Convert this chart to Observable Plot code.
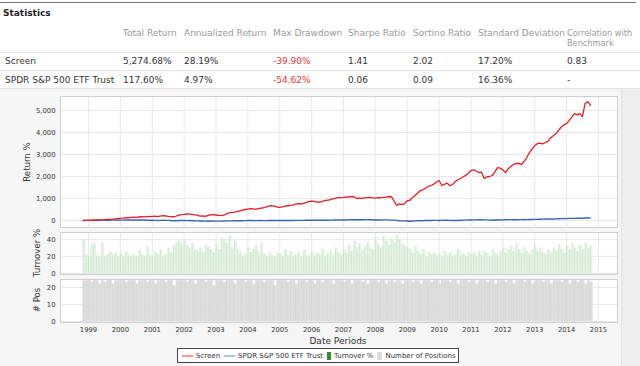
<!DOCTYPE html>
<html><head><meta charset="utf-8">
<script src="https://cdn.jsdelivr.net/npm/d3@7"></script>
<script src="https://cdn.jsdelivr.net/npm/@observablehq/plot@0.6"></script>
<style>
body{margin:0;width:640px;height:366px;position:relative;overflow:hidden;background:#fff;font-family:"DejaVu Sans",sans-serif;color:#333;}
.a{position:absolute;white-space:nowrap;line-height:1;}
.hd{color:#999;font-size:9px;}
.cell{font-size:9px;color:#333;}
.neg{color:#e8343c;}
.sep{position:absolute;left:0;width:640px;height:1px;background:#e2e2e2;}
.ylab{position:absolute;font-size:8.6px;color:#333;transform:translate(-50%,-50%) rotate(-90deg);white-space:nowrap;}
.panel{position:absolute;left:0;}
#legend{position:absolute;left:177px;top:348px;width:282px;height:15px;border:1px solid #444;background:#fff;font-size:7px;color:#333;display:flex;align-items:center;box-sizing:border-box;padding-left:4px;white-space:nowrap;}
.li{display:flex;align-items:center;margin-right:4px;white-space:nowrap;}
.li svg{margin-right:3px;display:block;}
</style></head><body>
<div class="a" style="left:0;top:2px;width:636px;height:1px;background:#777"></div>
<div class="a" style="left:3px;top:9px;font-weight:bold;font-size:9px;color:#222">Statistics</div>
<div id="table"></div>
<div class="a" style="left:0;top:89px;width:640px;height:277px;background:#f6f6f6"></div>
<div class="a" style="left:621px;top:89px;width:19px;height:277px;background:#efefef;border-left:1px solid #e2e2e2"></div>
<div id="p1" class="panel" style="top:92px"></div>
<div id="p2" class="panel" style="top:228px"></div>
<div id="p3" class="panel" style="top:275px"></div>
<div class="ylab" style="left:27px;top:162px">Return %</div>
<div class="ylab" style="left:37px;top:253px">Turnover %</div>
<div class="ylab" style="left:37px;top:300px"># Pos</div>
<div class="a" style="left:338px;top:341px;transform:translate(-50%,-50%);font-size:9px;color:#333">Date Periods</div>
<div id="legend"></div>
<script>
// ---------- table data ----------
const statColumns = ["Total Return","Annualized Return","Max Drawdown","Sharpe Ratio","Sortino Ratio","Standard Deviation","Correlation with"];
const statColumnsLine2 = ["","","","","","","Benchmark"];
const statNames = ["Screen","SPDR S&P 500 ETF Trust"];
const statScreen = ["5,274.68%","28.19%","-39.90%","1.41","2.02","17.20%","0.83"];
const statSpy = ["117.60%","4.97%","-54.62%","0.06","0.09","16.36%","-"];

// ---------- chart data (monthly, Nov 1998 .. Oct 2014) ----------
const startMonth = "1998-11-01";
const screenReturn = [
  0, 5,
  10, 15, 12, 25, 30, 28, 40, 45, 50, 60, 75, 90,
  95, 110, 130, 120, 140, 150, 145, 160, 170, 165, 175, 180,
  190, 200, 180, 200, 220, 210, 190, 180, 170, 200, 240, 270,
  280, 300, 290, 280, 260, 240, 200, 210, 190, 230, 260, 270,
  250, 230, 220, 240, 300, 350, 370, 380, 400, 440, 470, 500,
  520, 540, 530, 510, 540, 560, 580, 620, 660, 680, 650, 610,
  600, 620, 650, 670, 690, 700, 740, 770, 750, 780, 820, 860,
  880, 870, 850, 830, 860, 900, 920, 950, 980, 1010, 1040, 1040,
  1050, 1070, 1060, 1090, 1080, 1000, 1020, 1010, 1030, 1040, 1050, 1030,
  1020, 1040, 1030, 1050, 1060, 1090, 1080, 900, 680, 760, 720, 770,
  900, 920, 1050, 1150, 1250, 1360, 1400, 1480, 1560, 1590, 1650, 1750,
  1820, 1590, 1640, 1700, 1590, 1620, 1750, 1850, 1910, 1980, 2050, 2150,
  2270, 2300, 2250, 2180, 2200, 1910, 1980, 2000, 2045, 2200, 2400, 2380,
  2300, 2180, 2350, 2450, 2550, 2590, 2600, 2540, 2700, 2850, 3090, 3250,
  3400, 3500, 3520, 3480, 3545, 3600, 3750, 3850, 3950, 4100, 4250, 4350,
  4400, 4550, 4700, 4860, 4800, 4860, 4720, 5320, 5400, 5230
];
const spyReturn = [
  0, 5,
  5, 8, 12, 15, 12, 18, 15, 14, 10, 16, 18, 25,
  18, 15, 25, 22, 20, 24, 22, 30, 22, 22, 12, 13,
  17, 6, 0, 8, 9, 5, 4, -3, -11, -9, -2, -1,
  -3, -5, -1, -8, -9, -16, -22, -22, -30, -24, -19, -24,
  -26, -28, -27, -22, -18, -17, -15, -13, -14, -10, -9, -4,
  -3, -1, -3, -4, -3, -1, -4, -4, -3, -1, 3, 5,
  2, 4, 2, 0, 3, 3, 7, 6, 7, 5, 9, 9,
  12, 12, 14, 15, 12, 12, 13, 15, 18, 22, 24, 26,
  28, 26, 27, 33, 38, 36, 32, 34, 39, 41, 34, 33,
  24, 22, 21, 27, 29, 18, 17, 19, 8, -10, -17, -16,
  -23, -31, -25, -18, -14, -13, -7, -3, 1, -1, 5, 7,
  3, 6, 12, 14, 6, 0, 7, 2, 11, 15, 15, 23,
  26, 30, 30, 34, 32, 30, 27, 19, 11, 23, 22, 24,
  30, 36, 40, 39, 31, 36, 38, 41, 44, 42, 43, 44,
  52, 54, 60, 63, 67, 65, 74, 69, 75, 83, 87, 93,
  86, 95, 96, 97, 101, 106, 104, 113, 111, 117.6
];
const turnover = [
  40, 22,
  20, 34, 35, 21, 20, 36, 20, 22, 25, 21, 24, 20,
  23, 20, 25, 21, 20, 22, 20, 27, 21, 20, 32, 21,
  20, 25, 22, 28, 21, 22, 30, 24, 33, 36, 38, 35,
  38, 33, 30, 35, 28, 26, 30, 24, 33, 31, 28, 24,
  34, 28, 42, 40, 35, 44, 30, 38, 28, 24, 20, 22,
  30, 25, 28, 33, 24, 36, 22, 20, 25, 21, 20, 24,
  22, 20, 28, 21, 26, 20, 22, 24, 20, 27, 21, 20,
  25, 21, 24, 22, 28, 20, 23, 26, 21, 30, 24, 22,
  28, 24, 33, 26, 38, 30, 35, 27, 32, 36, 30, 28,
  42, 34, 30, 44, 38, 33, 40, 36, 45, 40, 35, 32,
  30, 28, 24, 32, 26, 22, 28, 20, 25, 22, 24, 21,
  22, 20, 26, 21, 24, 20, 22, 28, 21, 23, 20, 25,
  22, 24, 20, 26, 21, 25, 23, 20, 28, 24, 22, 26,
  30, 24, 28, 32, 26, 35, 28, 24, 30, 26, 22, 28,
  32, 26, 30, 25, 22, 28, 24, 30, 26, 34, 28, 24,
  32, 28, 35, 30, 26, 33, 28, 36, 30, 32
];
const positions = [
  24, 24,
  24, 23, 24, 24, 22, 24, 23, 24, 24, 22, 24, 24,
  24, 24, 23, 24, 24, 24, 22, 24, 24, 24, 23, 24,
  24, 22, 24, 24, 24, 23, 24, 24, 21, 24, 24, 24,
  24, 23, 24, 24, 22, 24, 24, 24, 23, 24, 24, 21,
  24, 24, 24, 23, 24, 24, 24, 22, 24, 24, 24, 23,
  24, 24, 22, 24, 24, 24, 23, 24, 24, 24, 21, 24,
  24, 24, 24, 23, 24, 24, 22, 24, 24, 24, 23, 24,
  24, 22, 24, 24, 23, 24, 24, 24, 22, 24, 24, 24,
  23, 24, 24, 22, 24, 24, 24, 23, 24, 22, 24, 24,
  24, 23, 24, 24, 22, 24, 24, 23, 24, 24, 22, 24,
  24, 24, 23, 24, 24, 22, 24, 24, 24, 23, 24, 24,
  22, 24, 24, 24, 23, 24, 24, 22, 24, 24, 24, 23,
  24, 24, 22, 24, 24, 24, 23, 24, 24, 22, 24, 24,
  24, 23, 24, 24, 22, 24, 24, 24, 23, 24, 24, 22,
  24, 24, 24, 23, 24, 24, 22, 24, 24, 24, 23, 24,
  24, 22, 24, 24, 23, 24, 24, 22, 24, 23
];
const yearTicks = ["1999","2000","2001","2002","2003","2004","2005","2006","2007","2008","2009","2010","2011","2012","2013","2014","2015"];
const returnTicks = [0, 1000, 2000, 3000, 4000, 5000];
const turnoverTicks = [0, 20, 40];
const positionTicks = [0, 10, 20];
const legendItems = ["Screen", "SPDR S&P 500 ETF Trust", "Turnover %", "Number of Positions"];

// ---------- table ----------
const colX = [123,184,273,348,413,478,567];
const tbl = document.getElementById("table");
function put(txt, x, y, cls, fs){ const d=document.createElement("div"); d.className="a "+cls; d.style.left=x+"px"; d.style.top=y+"px"; if(fs) d.style.fontSize=fs; d.textContent=txt; tbl.appendChild(d); }
statColumns.forEach((c,i)=>{ const fs = i===6 ? "8.2px" : null; put(c, colX[i], 29, "hd", fs); if(statColumnsLine2[i]) put(statColumnsLine2[i], colX[i], 39, "hd", fs); });
put(statNames[0], 5, 57, "cell"); put(statNames[1], 5, 76, "cell");
statScreen.forEach((v,i)=>put(v, colX[i], 57, "cell"+(v.startsWith("-")&&v.length>1?" neg":"")));
statSpy.forEach((v,i)=>put(v, colX[i], 76, "cell"+(v.startsWith("-")&&v.length>1?" neg":"")));
[52,70,88].forEach(y=>{const s=document.createElement("div"); s.className="sep"; s.style.top=y+"px"; tbl.appendChild(s);});

// ---------- chart ----------
const t0 = new Date(startMonth);
const rows = screenReturn.map((v,i)=>({
  date: d3.utcMonth.offset(t0, i),
  end: d3.utcMonth.offset(t0, i+1),
  screen: v, spy: spyReturn[i], turn: turnover[i], pos: positions[i]
}));
const years = yearTicks.map(y=>new Date(y+"-01-01"));
const xDomain = [new Date("1998-02-14"), new Date("2015-08-07")];
const font = {background:"transparent", fontFamily:"DejaVu Sans", fontSize:"6.8px", color:"#333", overflow:"visible"};
const common = {width:640, marginLeft:60, marginRight:23, style:font};
const grid = "#e8e8e8";
const fmt = d3.format(",");

const p1 = Plot.plot({...common, height:137, marginTop:4, marginBottom:2,
  x:{type:"utc", domain:xDomain, axis:null},
  y:{domain:[-318, 5636]},
  marks:[
    Plot.frame({fill:"white"}),
    Plot.gridX(years, {stroke:grid, strokeOpacity:1}),
    Plot.gridY(returnTicks, {stroke:grid, strokeOpacity:1}),
    Plot.axisY(returnTicks, {tickSize:0, tickPadding:5, tickFormat:fmt, label:null}),
    Plot.lineY(rows, {x:"date", y:"spy", stroke:"#3b63b8", strokeWidth:1.4}),
    Plot.lineY(rows, {x:"date", y:"screen", stroke:"#ea1c24", strokeWidth:1.3}),
    Plot.frame({stroke:"#cfcfcf"})
  ]});
document.getElementById("p1").append(p1);

const p2 = Plot.plot({...common, height:50, marginTop:4, marginBottom:4,
  x:{type:"utc", domain:xDomain, axis:null},
  y:{domain:[-1.2, 48]},
  marks:[
    Plot.frame({fill:"white"}),
    Plot.gridX(years, {stroke:grid, strokeOpacity:1}),
    Plot.gridY(turnoverTicks, {stroke:grid, strokeOpacity:1}),
    Plot.axisY(turnoverTicks, {tickSize:0, tickPadding:5, label:null}),
    Plot.rectY(rows, {x1:"date", x2:"end", y:"turn", fill:"#e6f3e6", insetLeft:0.6}),
    Plot.ruleX(rows, {x:"date", y1:0, y2:"turn", stroke:"#c0e0c0", strokeWidth:0.7}),
    Plot.frame({stroke:"#cfcfcf"})
  ]});
document.getElementById("p2").append(p2);

const p3 = Plot.plot({...common, height:61, marginTop:4, marginBottom:14,
  x:{type:"utc", domain:xDomain},
  y:{domain:[-0.6, 24.7]},
  marks:[
    Plot.frame({fill:"white"}),
    Plot.gridX(years, {stroke:grid, strokeOpacity:1}),
    Plot.gridY(positionTicks, {stroke:grid, strokeOpacity:1}),
    Plot.axisY(positionTicks, {tickSize:0, tickPadding:5, label:null}),
    Plot.axisX(years, {tickSize:0, tickPadding:5, tickFormat:d3.utcFormat("%Y"), label:null}),
    Plot.rectY(rows, {x1:"date", x2:"end", y:"pos", fill:"#dddddd"}),
    Plot.ruleX(rows, {x:"date", y1:0, y2:"pos", stroke:"#d2d2d2", strokeWidth:0.5}),
    Plot.frame({stroke:"#cfcfcf"})
  ]});
document.getElementById("p3").append(p3);

// ---------- legend ----------
const lg = document.getElementById("legend");
const swatches = [
  '<svg width="11" height="8"><line x1="0" x2="11" y1="4" y2="4" stroke="#ee5a60" stroke-width="1.2"/></svg>',
  '<svg width="11" height="8"><line x1="0" x2="11" y1="4" y2="4" stroke="#7f97d2" stroke-width="1.2"/></svg>',
  '<svg width="4" height="8"><rect width="4" height="8" fill="#2f8f2f"/></svg>',
  '<svg width="5" height="8"><rect width="5" height="8" fill="#dcdcdc"/></svg>'
];
legendItems.forEach((t,i)=>{ const s=document.createElement("span"); s.className="li"; s.innerHTML=swatches[i]+t; lg.appendChild(s); });
</script>
</body></html>
